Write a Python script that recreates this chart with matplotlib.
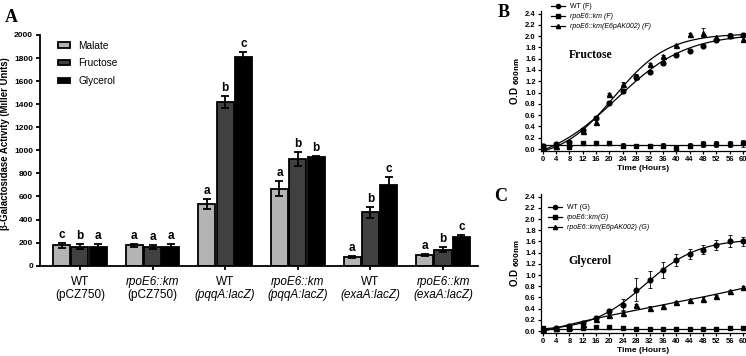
import numpy as np
import matplotlib
matplotlib.use('Agg')
import matplotlib.pyplot as plt
import matplotlib.transforms as mtransforms
from matplotlib.patches import Patch
from matplotlib.lines import Line2D

plt.rcParams['font.family'] = ['Liberation Sans', 'DejaVu Sans']

# ---- panel A data ----
group_top = ['WT', 'rpoE6::km', 'WT', 'rpoE6::km', 'WT', 'rpoE6::km']
group_bottom = ['(pCZ750)', '(pCZ750)', '(pqqA:lacZ)', '(pqqA:lacZ)', '(exaA:lacZ)', '(exaA:lacZ)']
series_names = ['Malate', 'Fructose', 'Glycerol']
malate = [175, 175, 533, 668, 75, 95]
malate_err = [18, 14, 44, 62, 8, 8]
fructose = [165, 162, 1418, 924, 462, 140]
fructose_err = [20, 16, 50, 58, 50, 18]
glycerol = [162, 166, 1812, 940, 700, 248]
glycerol_err = [24, 24, 40, 14, 65, 15]
malate_lett = ['c', 'a', 'a', 'a', 'a', 'a']
fructose_lett = ['b', 'a', 'b', 'b', 'b', 'b']
glycerol_lett = ['a', 'a', 'c', 'b', 'c', 'c']

# ---- panels B / C data ----
hours = [0, 4, 8, 12, 16, 20, 24, 28, 32, 36, 40, 44, 48, 52, 56, 60]
wt_f = [0.05, 0.08, 0.13, 0.33, 0.55, 0.82, 1.03, 1.27, 1.37, 1.52, 1.67, 1.74, 1.83, 1.93, 2.00, 2.02]
wt_f_err = [0.02, 0.02, 0.02, 0.03, 0.04, 0.03, 0.03, 0.04, 0.03, 0.04, 0.03, 0.03, 0.03, 0.03, 0.04, 0.03]
km_f = [0.05, 0.04, 0.04, 0.10, 0.11, 0.11, 0.06, 0.06, 0.06, 0.06, 0.02, 0.06, 0.09, 0.09, 0.09, 0.10]
km_f_err = [0.02, 0.02, 0.02, 0.02, 0.02, 0.02, 0.04, 0.03, 0.03, 0.04, 0.03, 0.05, 0.05, 0.05, 0.05, 0.06]
comp_f = [0.03, 0.05, 0.10, 0.31, 0.48, 0.97, 1.16, 1.30, 1.50, 1.65, 1.84, 2.03, 2.06, 1.98, 2.02, 1.95]
comp_f_err = [0.02, 0.02, 0.02, 0.02, 0.05, 0.02, 0.02, 0.03, 0.02, 0.02, 0.02, 0.02, 0.08, 0.03, 0.04, 0.05]

wt_g = [0.04, 0.06, 0.09, 0.15, 0.23, 0.36, 0.47, 0.74, 0.92, 1.09, 1.27, 1.37, 1.45, 1.54, 1.61, 1.60]
wt_g_err = [0.02, 0.02, 0.02, 0.02, 0.03, 0.03, 0.10, 0.21, 0.15, 0.14, 0.10, 0.09, 0.08, 0.09, 0.10, 0.08]
km_g = [0.05, 0.04, 0.04, 0.05, 0.07, 0.07, 0.05, 0.03, 0.03, 0.03, 0.03, 0.03, 0.04, 0.04, 0.05, 0.05]
km_g_err = [0.02] * 16
comp_g = [0.03, 0.05, 0.08, 0.13, 0.22, 0.28, 0.33, 0.46, 0.42, 0.45, 0.52, 0.56, 0.58, 0.62, 0.72, 0.79]
comp_g_err = [0.02] * 16


def fit_logistic(x, y):
    # crude 4-parameter logistic fit: grid over x0/k, least squares for bottom/top
    x = np.asarray(x, float)
    y = np.asarray(y, float)
    best = None
    for x0 in np.linspace(5, 60, 111):
        for k in np.linspace(0.03, 0.4, 75):
            s = 1 / (1 + np.exp(-k * (x - x0)))
            A = np.column_stack([1 - s, s])
            coef, *_ = np.linalg.lstsq(A, y, rcond=None)
            r = np.sum((A @ coef - y) ** 2)
            if best is None or r < best[0]:
                best = (r, coef, x0, k)
    _, coef, x0, k = best
    return lambda t: coef[0] + (coef[1] - coef[0]) / (1 + np.exp(-k * (t - x0)))


fig = plt.figure(figsize=(7.46, 3.56), dpi=100)

# ================= Panel A =================
axA = fig.add_axes([0.0536, 0.2537, 0.587, 0.648])
x = np.arange(len(group_top))
w = 0.235
off = 0.252
colors = ['#b4b4b4', '#404040', '#000000']
vals = [malate, fructose, glycerol]
errs = [malate_err, fructose_err, glycerol_err]
letts = [malate_lett, fructose_lett, glycerol_lett]
for i in range(3):
    xs = x + (i - 1) * off
    axA.bar(xs, vals[i], w, color=colors[i], edgecolor='black', linewidth=1.3,
            label=series_names[i], zorder=2)
    axA.errorbar(xs, vals[i], yerr=errs[i], fmt='none', ecolor='black',
                 elinewidth=1.3, capsize=3, capthick=1.3, zorder=3)
    for xi, v, e, l in zip(xs, vals[i], errs[i], letts[i]):
        axA.annotate(l, (xi, v + e), xytext=(0, 1.5), textcoords='offset points',
                     ha='center', va='bottom', fontsize=8.5, fontweight='bold')

axA.set_xlim(-0.55, 5.48)
axA.set_ylim(0, 2000)
axA.set_yticks(np.arange(0, 2001, 200))
axA.set_xticks(x)
axA.set_xticklabels([''] * len(x))
axA.tick_params(axis='y', labelsize=6, width=1.3, length=3, pad=2)
axA.tick_params(axis='x', width=1.3, length=3)
for t in axA.get_yticklabels():
    t.set_fontweight('bold')
for s in ['top', 'right']:
    axA.spines[s].set_visible(False)
for s in ['left', 'bottom']:
    axA.spines[s].set_linewidth(1.3)
axA.set_ylabel('β-Galactosidase Activity (Miller Units)', fontsize=6.9,
               fontweight='bold')
axA.yaxis.set_label_coords(-0.068, 0.53)

trans = mtransforms.blended_transform_factory(axA.transData, axA.transAxes)
for xi, top, bot in zip(x, group_top, group_bottom):
    axA.text(xi, -0.045, top, transform=trans, ha='center', va='top', fontsize=8.5,
             fontstyle='italic' if top.startswith('rpo') else 'normal')
    axA.text(xi, -0.1, bot, transform=trans, ha='center', va='top', fontsize=8.5,
             fontstyle='normal' if 'pCZ' in bot else 'italic')

handles = [Patch(facecolor=c, edgecolor='black', linewidth=1.3) for c in colors]
axA.legend(handles, series_names, loc='upper left', bbox_to_anchor=(0.02, 1.015),
           frameon=False, fontsize=7.3, handlelength=1.2, handleheight=0.45,
           labelspacing=0.75, handletextpad=0.8)

fig.text(5 / 746, 1 - 22 / 356, 'A', fontsize=13, fontweight='bold',
         family='Liberation Serif')


def growth_panel(rect, wt, wt_err, km, km_err, comp, comp_err, labels, title,
                 title_xy, legend_anchor, poly_comp):
    ax = fig.add_axes(rect)
    h = np.array(hours, float)
    tt = np.linspace(0, 60, 300)
    ax.errorbar(h, wt, yerr=wt_err, fmt='o', color='black', ms=3.4, elinewidth=0.6,
                capsize=1.6, capthick=0.6, zorder=3)
    ax.errorbar(h, km, yerr=km_err, fmt='s', color='black', ms=3.4, elinewidth=0.6,
                capsize=1.6, capthick=0.6, zorder=3)
    ax.errorbar(h, comp, yerr=comp_err, fmt='^', color='black', ms=3.6, elinewidth=0.6,
                capsize=1.6, capthick=0.6, zorder=3)
    ax.plot(tt, fit_logistic(h, wt)(tt), color='black', lw=0.9)
    ax.plot(tt, np.polyval(np.polyfit(h, km, 0), tt), color='black', lw=0.9)
    if poly_comp:
        ax.plot(tt, np.polyval(np.polyfit(h, comp, 3), tt), color='black', lw=0.9)
    else:
        ax.plot(tt, fit_logistic(h, comp)(tt), color='black', lw=0.9)
    ax.set_xlim(-0.6, 60.8)
    ax.set_ylim(-0.03, 2.45)
    ax.set_xticks(hours)
    ax.set_yticks(np.round(np.arange(0, 2.41, 0.2), 1))
    ax.set_yticklabels(['%.1f' % v for v in np.arange(0, 2.41, 0.2)])
    ax.tick_params(labelsize=5.5, width=0.9, length=2, pad=1.5)
    for t in ax.get_xticklabels() + ax.get_yticklabels():
        t.set_fontweight('bold')
    for s in ['top', 'right']:
        ax.spines[s].set_visible(False)
    for s in ['left', 'bottom']:
        ax.spines[s].set_linewidth(0.9)
    ax.set_xlabel('Time (Hours)', fontsize=6, fontweight='bold', labelpad=2)
    ax.set_ylabel(r'O.D $_{\mathbf{600nm}}$', fontsize=7, fontweight='bold', labelpad=2)
    hnd = [Line2D([], [], color='black', marker=m, ms=3, lw=0.9) for m in ['o', 's', '^']]
    leg = ax.legend(hnd, labels, loc='upper left', bbox_to_anchor=legend_anchor,
                    bbox_transform=fig.transFigure, frameon=False, fontsize=5,
                    handlelength=2.0, labelspacing=0.4, handletextpad=0.6,
                    borderpad=0)
    for txt, lab in zip(leg.get_texts(), labels):
        if lab.startswith('rpo'):
            txt.set_fontstyle('italic')
    fig.text(title_xy[0], title_xy[1], title, fontsize=8.5, fontweight='bold',
             family='Liberation Serif')
    return ax


growth_panel([0.7248, 0.5767, 0.2748, 0.3933], wt_f, wt_f_err, km_f, km_f_err,
             comp_f, comp_f_err,
             ['WT (F)', 'rpoE6::km (F)', 'rpoE6::km(E6pAK002) (F)'],
             'Fructose', (569 / 746, 1 - 58 / 356), (548 / 746, 1 - 0 / 356), False)
fig.text(498 / 746, 1 - 17 / 356, 'B', fontsize=13, fontweight='bold',
         family='Liberation Serif')

growth_panel([0.7248, 0.0654, 0.2748, 0.3899], wt_g, wt_g_err, km_g, km_g_err,
             comp_g, comp_g_err,
             ['WT (G)', 'rpoE6::km(G)', 'rpoE6::km(E6pAK002) (G)'],
             'Glycerol', (568 / 746, 1 - 264 / 356), (545 / 746, 1 - 201 / 356), True)
fig.text(494 / 746, 1 - 201 / 356, 'C', fontsize=13, fontweight='bold',
         family='Liberation Serif')

fig.savefig('out.png', dpi=100)
